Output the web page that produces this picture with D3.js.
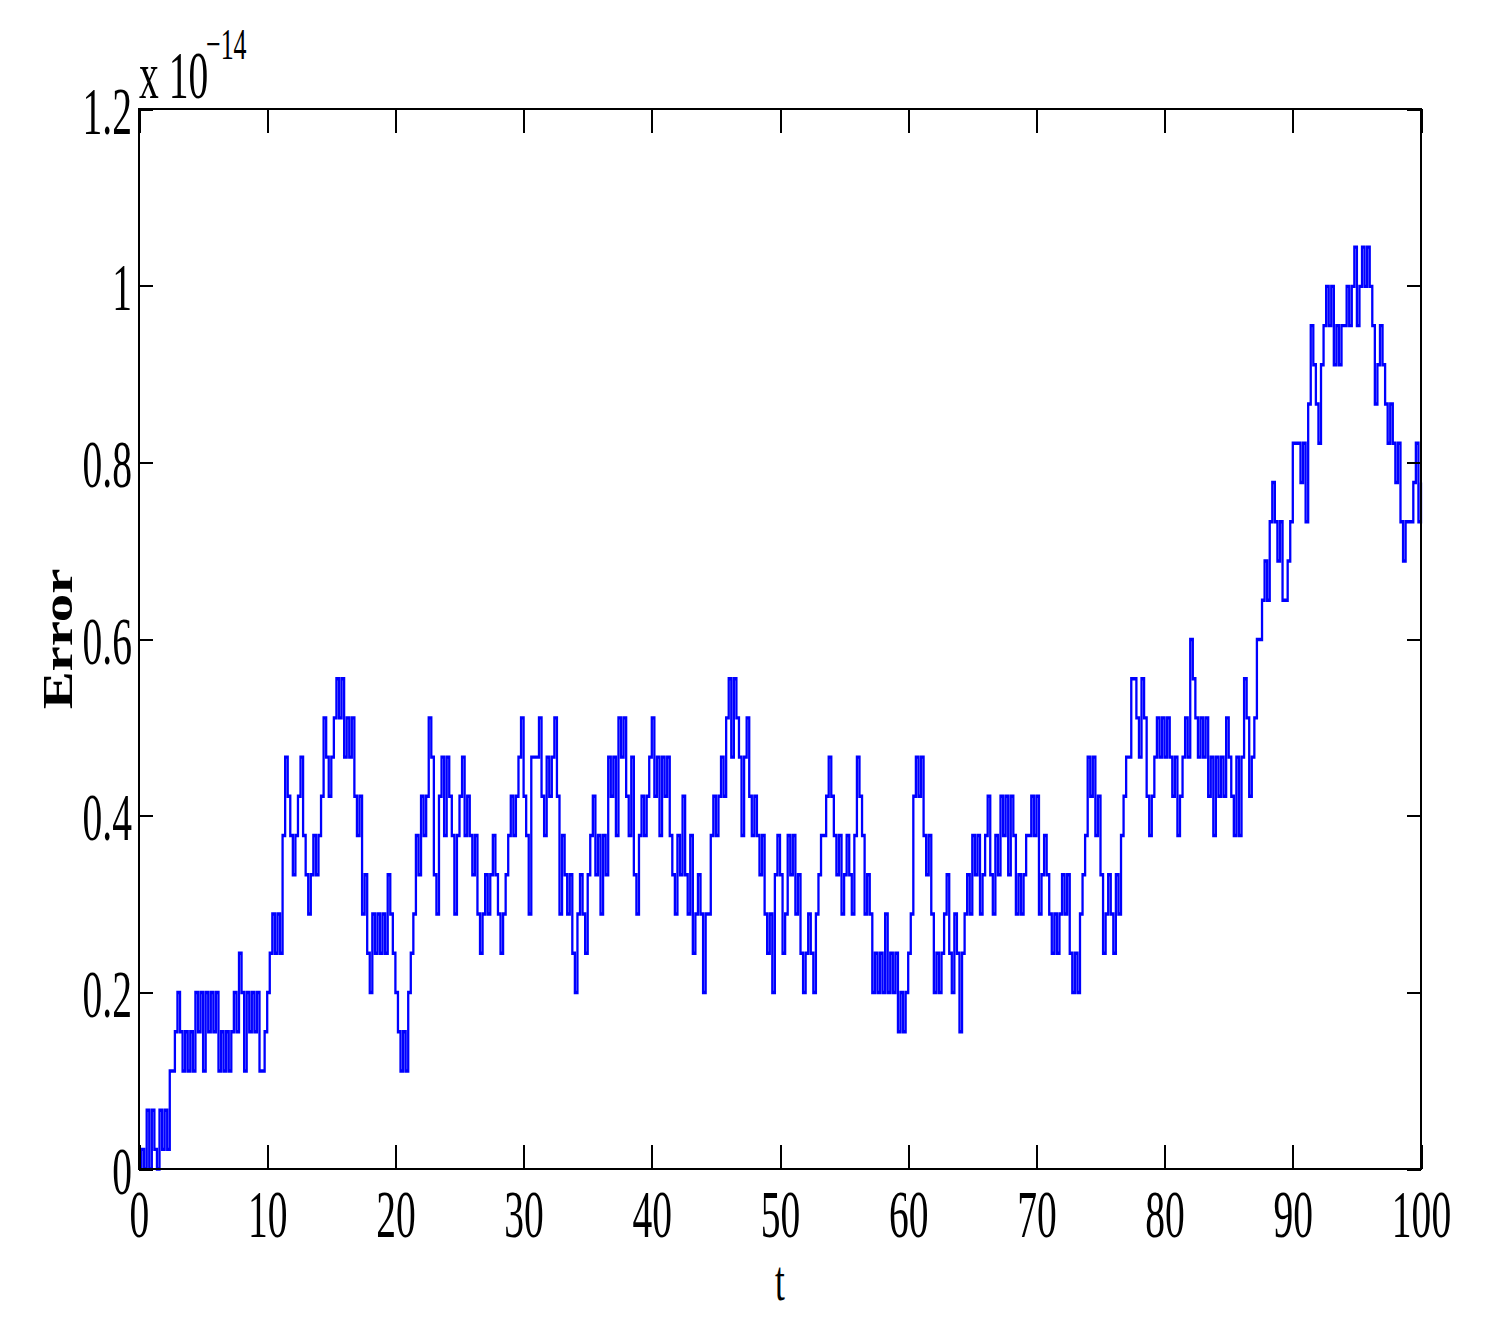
<!DOCTYPE html>
<html><head><meta charset="utf-8">
<script src="https://cdn.jsdelivr.net/npm/d3@7"></script>
<style>body{margin:0;background:#fff;overflow:hidden}</style>
</head><body>
<svg id="chart" width="1495" height="1326"></svg>
<script>
// ---- data ----
// sampling interval of the series (t units)
const tStep = 0.2;
// the error is quantised: values are listed as multiples of machine epsilon
const errorUnit = 2.220446e-16;
const err_00_10 = [0,1,0,3,0,3,1,0,3,1,3,1,5,5,7,9,7,5,7,5,7,5,9,7,9,5,9,7,9,7,9,5,7,5,7,5,7,9,7,11,9,5,9,7,9,7,9,5,5,7];
const err_10_20 = [9,11,13,11,13,11,17,21,19,17,15,17,19,21,17,15,13,15,17,15,17,19,23,21,19,21,23,25,23,25,21,23,21,23,19,17,19,13,15,11,9,13,11,13,11,13,11,15,13,11];
const err_20_30 = [9,7,5,7,5,9,11,13,17,15,19,17,19,23,21,15,13,19,21,17,21,19,17,13,17,19,21,17,19,17,15,17,13,11,13,15,13,15,17,15,13,11,13,15,17,19,17,19,21,23];
const err_30_40 = [19,17,13,21,21,21,23,19,17,21,19,21,23,19,13,17,15,13,15,11,9,13,15,13,11,15,17,19,15,17,13,17,15,21,19,21,17,23,21,23,19,17,21,15,13,17,19,17,19,21];
const err_40_50 = [23,19,21,17,21,19,21,17,15,13,17,15,19,15,13,17,11,13,15,13,9,13,13,17,19,17,19,21,19,23,25,21,25,23,21,17,21,23,19,17,19,17,15,17,13,11,13,9,15,17];
const err_50_60 = [15,11,13,17,15,17,13,15,11,9,11,13,11,9,13,15,17,17,19,21,19,17,15,17,13,15,17,15,13,17,21,19,17,13,15,13,9,11,9,11,9,13,9,11,9,11,7,9,7,9];
const err_60_70 = [11,13,19,21,19,21,17,15,17,13,9,11,9,11,13,15,11,9,13,11,7,11,13,15,13,17,15,17,13,15,17,19,15,13,17,15,19,17,19,15,19,17,13,15,13,15,17,17,19,17];
const err_70_80 = [19,13,15,17,15,13,11,13,11,13,15,13,15,11,9,11,9,13,15,17,21,19,21,17,19,15,11,13,15,13,11,15,13,17,19,21,21,25,25,23,21,25,23,19,17,19,21,23,21,23];
const err_80_90 = [21,23,21,19,21,17,19,21,23,21,27,25,23,21,23,21,23,19,21,17,21,19,21,19,23,21,19,17,21,17,21,25,23,19,21,23,27,27,29,31,29,33,35,33,31,33,29,29,31,33];
const err_90_100 = [37,37,37,35,37,33,39,43,41,39,37,41,43,45,43,45,41,43,41,43,43,45,43,45,47,43,45,47,45,47,45,43,39,41,43,41,39,37,39,37,35,37,33,31,33,33,33,35,37,33,35];

const xTicks = [0,10,20,30,40,50,60,70,80,90,100];
const yTicks = [0,0.2e-14,0.4e-14,0.6e-14,0.8e-14,1.0e-14,1.2e-14];
const yTickLabels = ["0","0.2","0.4","0.6","0.8","1","1.2"];
const xLabel = "t";
const yLabel = "Error";
const expBase = "x 10";
const expPower = "\u221214";

// ---- layout ----
const L = 139, R = 1421, T = 109, B = 1169;
const vStretch = 1.5; // the reference is stretched vertically (thicker horizontal strokes)
const fontFam = "'Liberation Serif','Times New Roman',serif";
const squeeze = "scale(0.59,1)";

const svg = d3.select("#chart");
const x = d3.scaleLinear().domain([0,100]).range([L,R]);
const y = d3.scaleLinear().domain([0,1.2e-14]).range([B,T]);
// same y scale expressed in the un-stretched frame of the line group
const yLine = d3.scaleLinear().domain([0,1.2e-14]).range([(B-T)/vStretch,0]);

const levels = [].concat(err_00_10,err_10_20,err_20_30,err_30_40,err_40_50,
  err_50_60,err_60_70,err_70_80,err_80_90,err_90_100);
const data = levels.map((k,i)=>({t:i*tStep, v:k*errorUnit}));

// line (drawn in a vertically stretched group so horizontal strokes are thicker)
const line = d3.line().x(d=>x(d.t)).y(d=>yLine(d.v)).curve(d3.curveStepAfter);
svg.append("g").attr("transform",`translate(0,${T}) scale(1,${vStretch})`)
  .append("path").datum(data)
  .attr("d",line)
  .attr("fill","none")
  .attr("stroke","#0000ff")
  .attr("stroke-width",2.3);

function styleAxis(g){
  g.select(".domain").remove();
  g.selectAll(".tick line").attr("stroke","#000").attr("stroke-width",2).attr("shape-rendering","crispEdges");
  g.selectAll("text").attr("font-family",fontFam).attr("font-size",67).attr("fill","#000");
}

// bottom axis
const gB = svg.append("g").attr("transform",`translate(0,${B})`)
  .call(d3.axisBottom(x).tickValues(xTicks).tickSizeInner(-24).tickSizeOuter(0).tickFormat(d3.format("d")));
styleAxis(gB);
gB.selectAll("text").attr("y",68).attr("dy",null).attr("transform",squeeze);

// top axis
const gT = svg.append("g").attr("transform",`translate(0,${T})`)
  .call(d3.axisTop(x).tickValues(xTicks).tickSizeInner(-24).tickSizeOuter(0).tickFormat(""));
styleAxis(gT);

// left axis
const gL = svg.append("g").attr("transform",`translate(${L},0)`)
  .call(d3.axisLeft(y).tickValues(yTicks).tickSizeInner(-14).tickSizeOuter(0)
    .tickFormat((d,i)=>yTickLabels[i]));
styleAxis(gL);
gL.selectAll("text").attr("x",-7/0.59).attr("y",24).attr("dy",null).attr("text-anchor","end").attr("transform",squeeze);

// right axis
const gR = svg.append("g").attr("transform",`translate(${R},0)`)
  .call(d3.axisRight(y).tickValues(yTicks).tickSizeInner(-14).tickSizeOuter(0).tickFormat(""));
styleAxis(gR);

// frame
svg.append("rect").attr("x",L).attr("y",T).attr("width",R-L).attr("height",B-T)
  .attr("fill","none").attr("stroke","#000").attr("stroke-width",2).attr("shape-rendering","crispEdges");

// exponent label
svg.append("text").attr("transform",`translate(139,98) ${squeeze}`)
  .attr("font-family",fontFam).attr("font-size",67).text(expBase);
svg.append("text").attr("transform",`translate(206,59) ${squeeze}`)
  .attr("font-family",fontFam).attr("font-size",44).text(expPower);

// x label
svg.append("text").attr("transform",`translate(780,1300) scale(0.62,1)`)
  .attr("font-family",fontFam).attr("font-size",57).attr("text-anchor","middle").text(xLabel);

// y label
svg.append("text").attr("transform","translate(72,639) rotate(-90) scale(1.35,1)")
  .attr("font-family",fontFam).attr("font-size",42).attr("font-weight","bold")
  .attr("text-anchor","middle").text(yLabel);
</script>
</body></html>
